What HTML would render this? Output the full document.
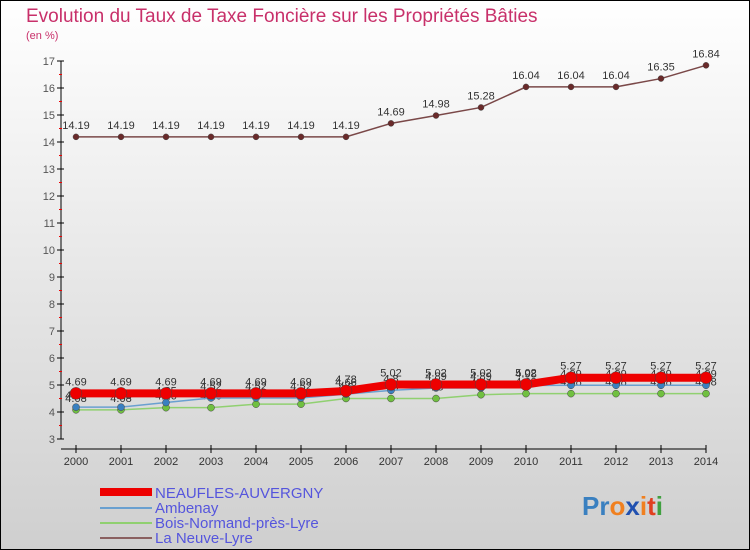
<!DOCTYPE html>
<html><head><meta charset="utf-8"><style>
body{margin:0}
svg{display:block;font-family:"Liberation Sans",sans-serif}
</style></head><body>
<svg id="c" width="750" height="550" viewBox="0 0 750 550">
<defs><linearGradient id="bg" x1="0" y1="0" x2="0" y2="1"><stop offset="0" stop-color="#ffffff"/><stop offset="1" stop-color="#cfcfcf"/></linearGradient></defs>
<rect x="0.5" y="0.5" width="749" height="549" fill="url(#bg)" stroke="#000"/>
<text x="26" y="22" font-size="19" fill="#c8306a">Evolution du Taux de Taxe Foncière sur les Propriétés Bâties</text>
<text x="26" y="39" font-size="11" fill="#c8306a">(en %)</text>
<g id="axes"></g>
<g id="series"></g>
<g>
<rect x="100" y="488" width="52" height="8" fill="#e00"/>
<text x="155" y="498" font-size="15" fill="#5555dd">NEAUFLES-AUVERGNY</text>
<rect x="100" y="507" width="52" height="2" fill="#6aa0d0"/>
<text x="155" y="513" font-size="15" fill="#5555dd">Ambenay</text>
<rect x="100" y="522" width="52" height="2" fill="#90d070"/>
<text x="155" y="528" font-size="15" fill="#5555dd">Bois-Normand-près-Lyre</text>
<rect x="100" y="537" width="52" height="2" fill="#8a6060"/>
<text x="155" y="543" font-size="15" fill="#5555dd">La Neuve-Lyre</text>
</g>
<g font-size="26" font-weight="bold">
<text x="582" y="515"><tspan fill="#3a80c0">Pr</tspan><tspan fill="#f08020">o</tspan><tspan fill="#2050b0">x</tspan><tspan fill="#f08020">i</tspan><tspan fill="#e04020">t</tspan><tspan fill="#40a040">i</tspan></text>
</g>
</svg>
<script>
const years=[2000,2001,2002,2003,2004,2005,2006,2007,2008,2009,2010,2011,2012,2013,2014];
const yTicks=[3,4,5,6,7,8,9,10,11,12,13,14,15,16,17];
const neaufles=[4.69,4.69,4.69,4.69,4.69,4.69,4.78,5.02,5.02,5.02,5.02,5.27,5.27,5.27,5.27];
const ambenay=[4.18,4.18,4.35,4.52,4.52,4.52,4.66,4.8,4.89,4.89,4.98,4.99,4.99,4.99,4.99];
const boisNormand=[4.08,4.08,4.16,4.16,4.29,4.29,4.5,4.5,4.5,4.64,4.68,4.68,4.68,4.68,4.68];
const neuveLyre=[14.19,14.19,14.19,14.19,14.19,14.19,14.19,14.69,14.98,15.28,16.04,16.04,16.04,16.35,16.84];
const NS="http://www.w3.org/2000/svg";
const X=i=>76+i*45;
const Y=v=>439-(v-3)*27;
function mk(t,a,p){const e=document.createElementNS(NS,t);for(const k in a)e.setAttribute(k,a[k]);p.appendChild(e);return e;}
const ax=document.getElementById('axes');
const axl=mk('line',{x1:61,y1:Y(17),x2:61,y2:Y(3),stroke:'#000'},ax);


const xl=mk('line',{x1:61,y1:449,x2:706,y2:449,stroke:'#000'},ax);


yTicks.forEach(v=>{
 mk('line',{x1:57,y1:Y(v),x2:64,y2:Y(v),stroke:'#000'},ax);
 if(v<17)mk('line',{x1:59,y1:Y(v+0.5),x2:62,y2:Y(v+0.5),stroke:'#e00'},ax);
 const t=mk('text',{x:55,y:Y(v)+4,'font-size':11,fill:'#555','text-anchor':'end'},ax);
 t.textContent=v;
 
 
});
years.forEach((y,i)=>{
 mk('line',{x1:X(i),y1:445,x2:X(i),y2:453,stroke:'#000'},ax);
 const t=mk('text',{x:X(i),y:465,'font-size':11,fill:'#333','text-anchor':'middle'},ax);
 t.textContent=y;
 
 
});
const sg=document.getElementById('series');
function series(vals,name,color,w,r,dot,labels){
 const g=mk('g',{},sg);
 
 
 const pl=mk('polyline',{points:vals.map((v,i)=>X(i)+','+Y(v)).join(' '),fill:'none',stroke:color,'stroke-width':w},g);
 
 
 vals.forEach((v,i)=>{
  const c=mk('circle',{cx:X(i),cy:Y(v),r:r,fill:dot,stroke:'#444','stroke-width':0.5},g);
  
  
  if(labels){
   const t=mk('text',{x:X(i),y:Y(v)-8,'font-size':11,fill:'#333','text-anchor':'middle'},g);
   t.textContent=v;
   
   
  }
 });
}
series(neuveLyre,'la-neuve-lyre-series','#7a4848',1.5,3,'#6a2a2a',true);
series(boisNormand,'bois-normand-series','#90d070',1.5,3.5,'#70c040',true);
series(ambenay,'ambenay-series','#6aa0d0',1.5,3.5,'#3a80c0',true);
series(neaufles,'neaufles-series','#e00',8,6,'#e00',true);
</script>
</body></html>
